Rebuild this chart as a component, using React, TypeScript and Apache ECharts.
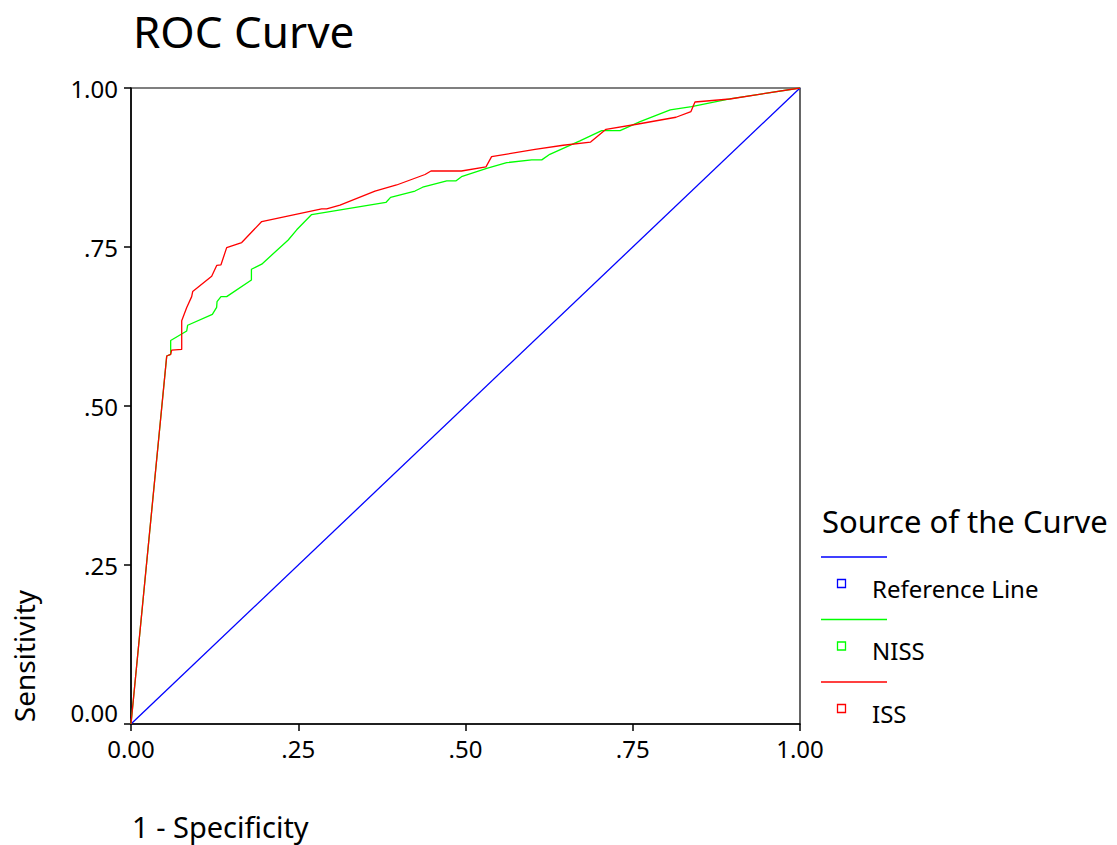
import { useEffect, useRef } from "react";
import * as echarts from "echarts";

const chartTitle = "ROC Curve";
const xAxisTitle = "1 - Specificity";
const yAxisTitle = "Sensitivity";
const legendTitle = "Source of the Curve";

const tickLabels = ["0.00", ".25", ".50", ".75", "1.00"];
const seriesNames = ["Reference Line", "NISS", "ISS"];
const seriesColors = ["#0000ff", "#00ff00", "#ff0000"];

const refX = [0, 1];
const refY = [0, 1];

const nissX = [0, 0.0534, 0.0593, 0.0593, 0.0833, 0.0847, 0.1216, 0.128, 0.1286, 0.1345, 0.143, 0.18, 0.18, 0.1954, 0.235, 0.2477, 0.27, 0.381, 0.388, 0.4245, 0.436, 0.472, 0.486, 0.494, 0.5317, 0.5616, 0.599, 0.614, 0.626, 0.671, 0.7036, 0.731, 0.761, 0.806, 0.838, 0.895, 1.0];
const nissY = [0, 0.5786, 0.5813, 0.603, 0.618, 0.627, 0.644, 0.655, 0.664, 0.672, 0.672, 0.698, 0.715, 0.723, 0.761, 0.777, 0.801, 0.82, 0.828, 0.838, 0.844, 0.854, 0.854, 0.8605, 0.8737, 0.8826, 0.887, 0.887, 0.8957, 0.917, 0.933, 0.933, 0.947, 0.9655, 0.9706, 0.983, 1.0];

const issX = [0, 0.0534, 0.0593, 0.0608, 0.0758, 0.0758, 0.0833, 0.0907, 0.0922, 0.1206, 0.1281, 0.1345, 0.143, 0.1655, 0.1954, 0.285, 0.2925, 0.3124, 0.3647, 0.397, 0.4395, 0.4484, 0.494, 0.5306, 0.539, 0.604, 0.646, 0.687, 0.71, 0.756, 0.8146, 0.837, 0.843, 0.895, 1.0];
const issY = [0, 0.5786, 0.5813, 0.588, 0.589, 0.634, 0.655, 0.672, 0.68, 0.704, 0.721, 0.722, 0.749, 0.757, 0.79, 0.81, 0.81, 0.816, 0.838, 0.8475, 0.864, 0.8695, 0.8695, 0.876, 0.892, 0.9036, 0.91, 0.915, 0.935, 0.943, 0.954, 0.963, 0.978, 0.9827, 1.0];

const FONT = "'Noto Sans', 'DejaVu Sans', sans-serif";

function zip(xs: number[], ys: number[]) {
  return xs.map((x, i) => [x, ys[i]]);
}

export default function App() {
  const ref = useRef<HTMLDivElement>(null);
  useEffect(() => {
    if (!ref.current) return;
    const chart = echarts.init(ref.current, null, { renderer: "svg" });
    const seriesData = [zip(refX, refY), zip(nissX, nissY), zip(issX, issY)];

    const legendGraphics: any[] = [
      {
        type: "text",
        x: 822,
        y: 521,
        style: { text: legendTitle, font: `31px ${FONT}`, fill: "#000", verticalAlign: "middle", align: "left" },
      },
    ];
    seriesNames.forEach((name, i) => {
      const base = 557 + i * 62.5;
      legendGraphics.push({
        type: "line",
        shape: { x1: 821, y1: base, x2: 887, y2: base },
        style: { stroke: seriesColors[i], lineWidth: 1.3 },
      });
      legendGraphics.push({
        type: "rect",
        shape: { x: 837.5, y: base + 22.5, width: 8, height: 8 },
        style: { stroke: seriesColors[i], fill: "none", lineWidth: 1.3 },
      });
      legendGraphics.push({
        type: "text",
        x: 872,
        y: base + 31,
        style: { text: name, font: `24px ${FONT}`, fill: "#000", verticalAlign: "middle", align: "left" },
      });
    });

    const axisCommon = {
      type: "value" as const,
      min: 0,
      max: 1,
      interval: 0.25,
      splitLine: { show: false },
      axisLine: { show: true, onZero: false, lineStyle: { color: "#000", width: 1.5 } },
      axisTick: { show: true, length: 7, lineStyle: { color: "#000", width: 1.5 } },
    };
    const labelCommon = {
      fontFamily: FONT,
      fontSize: 24,
      color: "#000",
      showMinLabel: true,
      showMaxLabel: true,
    };

    chart.setOption({
      animation: false,
      backgroundColor: "#fff",
      grid: {
        left: 131,
        top: 88,
        width: 669,
        height: 636,
        show: true,
        borderColor: "#000",
        borderWidth: 1.2,
        backgroundColor: "transparent",
      },
      xAxis: {
        ...axisCommon,
        axisLabel: {
          ...labelCommon,
          margin: 12,
          formatter: (v: number) => tickLabels[Math.round(v / 0.25)],
        },
      },
      yAxis: {
        ...axisCommon,
        axisLabel: {
          ...labelCommon,
          margin: 13,
          formatter: (v: number) => {
            const i = Math.round(v / 0.25);
            return i === 0 ? `{low|${tickLabels[i]}}` : tickLabels[i];
          },
          rich: {
            low: { fontFamily: FONT, fontSize: 24, color: "#000", padding: [0, 0, 24, 0] },
          },
        },
      },
      graphic: [
        {
          type: "text",
          x: 133,
          y: 31,
          style: { text: chartTitle, font: `44px ${FONT}`, fill: "#000", verticalAlign: "middle", align: "left" },
        },
        {
          type: "text",
          x: 132,
          y: 826,
          style: { text: xAxisTitle, font: `29px ${FONT}`, fill: "#000", verticalAlign: "middle", align: "left" },
        },
        {
          type: "text",
          x: 24,
          y: 656,
          rotation: Math.PI / 2,
          style: { text: yAxisTitle, font: `28px ${FONT}`, fill: "#000", verticalAlign: "middle", align: "center" },
        },
        ...legendGraphics,
      ],
      series: seriesNames.map((name, i) => ({
        name,
        type: "line",
        data: seriesData[i],
        showSymbol: false,
        symbol: "none",
        lineStyle: { color: seriesColors[i], width: 1.3 },
        itemStyle: { color: seriesColors[i] },
        z: 2 + i,
      })),
    });
    return () => chart.dispose();
  }, []);
  return <div ref={ref} style={{ position: "absolute", left: 0, top: 0, width: 1117, height: 845 }} />;
}
